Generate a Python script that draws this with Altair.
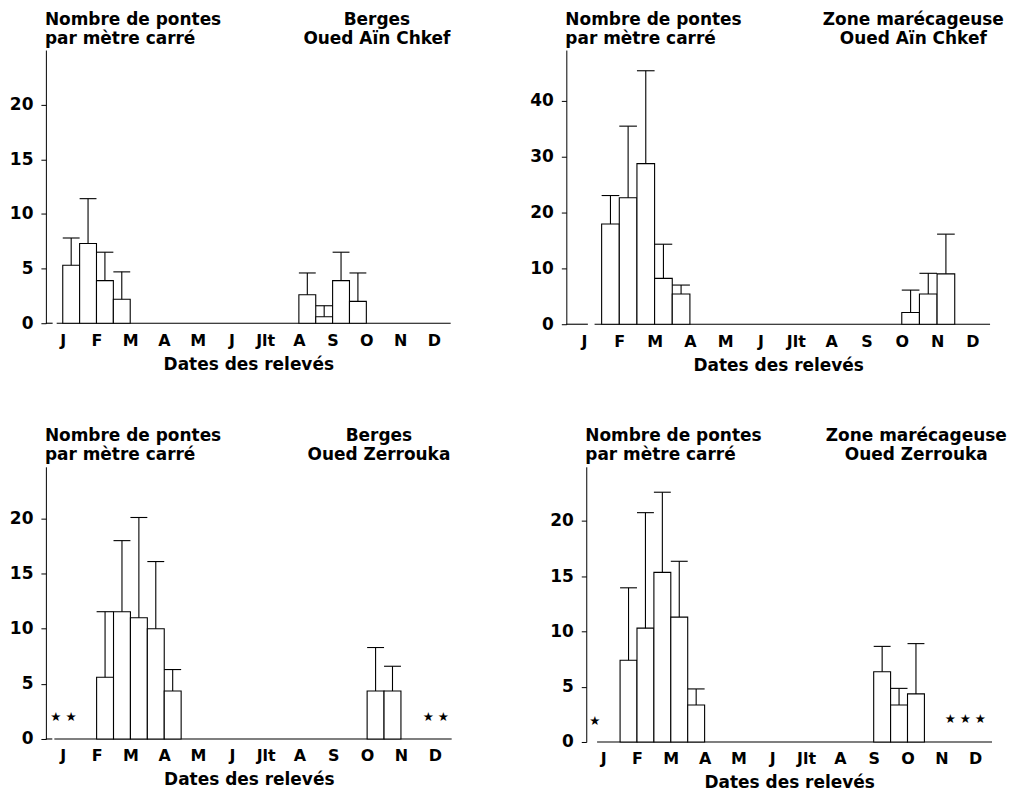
import json
import altair as alt
import pandas as pd

# ---------------- data ----------------
MONTHS = ["J", "F", "M", "A", "M", "J", "Jlt", "A", "S", "O", "N", "D"]
Y_TITLE = ["Nombre de pontes", "par mètre carré"]
X_TITLE = "Dates des relevés"
HALF = 0.5  # each bar covers half a month

# Panel 1 : Berges, Oued Aïn Chkef
p1_site = ["Berges", "Oued Aïn Chkef"]
p1_start = [0.0, 0.5, 1.0, 1.5, 7.0, 7.5, 8.0, 8.5]
p1_mean = [5.3, 7.3, 3.9, 2.2, 2.6, 0.6, 3.9, 2.0]
p1_upper = [7.8, 11.4, 6.5, 4.7, 4.6, 1.6, 6.5, 4.6]
p1_ymax = 25
p1_ticks = [0, 5, 10, 15, 20]
p1_base_from = [-0.5, -0.18]
p1_base_to = [-0.3, 11.5]
p1_star_x, p1_star_y, p1_star_t = [], [], []

# Panel 2 : Zone marécageuse, Oued Aïn Chkef
p2_site = ["Zone marécageuse", "Oued Aïn Chkef"]
p2_start = [0.5, 1.0, 1.5, 2.0, 2.5, 9.0, 9.5, 10.0]
p2_mean = [17.9, 22.6, 28.7, 8.2, 5.4, 2.1, 5.4, 9.0]
p2_upper = [23.0, 35.4, 45.3, 14.3, 7.0, 6.1, 9.1, 16.1]
p2_ymax = 49
p2_ticks = [0, 10, 20, 30, 40]
p2_base_from = [-0.5, 0.3]
p2_base_to = [0.11, 11.5]
p2_star_x, p2_star_y, p2_star_t = [], [], []

# Panel 3 : Berges, Oued Zerrouka
p3_site = ["Berges", "Oued Zerrouka"]
p3_start = [1.0, 1.5, 2.0, 2.5, 3.0, 9.0, 9.5]
p3_mean = [5.6, 11.55, 11.0, 10.0, 4.35, 4.35, 4.35]
p3_upper = [11.55, 18.0, 20.1, 16.1, 6.3, 8.3, 6.6]
p3_ymax = 24.7
p3_ticks = [0, 5, 10, 15, 20]
p3_base_from = [-0.5, -0.25]
p3_base_to = [-0.31, 11.5]
p3_star_x = [0.02, 11.03]
p3_star_y = [1.95, 1.95]
p3_star_t = ["★ ★", "★ ★"]

# Panel 4 : Zone marécageuse, Oued Zerrouka
p4_site = ["Zone marécageuse", "Oued Zerrouka"]
p4_start = [0.5, 1.0, 1.5, 2.0, 2.5, 8.0, 8.5, 9.0]
p4_mean = [7.4, 10.3, 15.35, 11.3, 3.35, 6.35, 3.35, 4.35]
p4_upper = [13.95, 20.75, 22.6, 16.35, 4.8, 8.65, 4.85, 8.9]
p4_ymax = 24.9
p4_ticks = [0, 5, 10, 15, 20]
p4_base_from = [-0.5, -0.18]
p4_base_to = [-0.5, 11.5]
p4_star_x = [-0.25, 10.71]
p4_star_y = [1.9, 2.1]
p4_star_t = ["★", "★ ★ ★"]

FONT = "DejaVu Sans"
LABEL_EXPR = json.dumps(MONTHS) + "[datum.value]"


def panel(site, start, mean, upper, ymax, ticks, bfrom, bto,
          sx, sy, st, width, height, right_off):
    df = pd.DataFrame({
        "start": start,
        "end": [s + HALF for s in start],
        "mid": [s + HALF / 2 for s in start],
        "mean": mean,
        "upper": upper,
    })
    xs = alt.Scale(domain=[-0.5, 11.5], nice=False, zero=False)
    ys = alt.Scale(domain=[0, ymax], nice=False, zero=True)
    xaxis = alt.Axis(values=list(range(12)), labelExpr=LABEL_EXPR,
                     domain=False, ticks=False, tickSize=0, grid=False,
                     labelFont=FONT, labelFontWeight="bold", labelFontSize=16,
                     labelColor="black", labelPadding=9, labelFlush=False,
                     labelOverlap=False, title=X_TITLE, titleFont=FONT,
                     titleFontWeight="bold", titleFontSize=17,
                     titleColor="black", titlePadding=8)
    yaxis = alt.Axis(values=ticks, domain=True, domainColor="black",
                     ticks=True, tickColor="black", tickSize=5, grid=False,
                     labelFont=FONT, labelFontWeight="bold", labelFontSize=17,
                     labelColor="black", labelPadding=8, title=None)

    base = alt.Chart(df)
    bars = base.mark_rect(fill="white", stroke="black", strokeWidth=1.1).encode(
        x=alt.X("start:Q", scale=xs, axis=xaxis),
        x2="end:Q",
        y=alt.Y("mean:Q", scale=ys, axis=yaxis),
        y2=alt.datum(0),
    )
    err = base.mark_rule(color="black", strokeWidth=1.1).encode(
        x=alt.X("mid:Q", scale=xs, axis=xaxis),
        y=alt.Y("mean:Q", scale=ys, axis=yaxis),
        y2="upper:Q",
    )
    cap = base.mark_rule(color="black", strokeWidth=1.1).encode(
        x=alt.X("start:Q", scale=xs, axis=xaxis),
        x2="end:Q",
        y=alt.Y("upper:Q", scale=ys, axis=yaxis),
    )
    bdf = pd.DataFrame({"x0": bfrom, "x1": bto})
    baseline = alt.Chart(bdf).mark_rule(color="black", strokeWidth=1.1).encode(
        x=alt.X("x0:Q", scale=xs, axis=xaxis),
        x2="x1:Q",
        y=alt.datum(0),
    )
    layers = [baseline, bars, err, cap]
    if sx:
        sdf = pd.DataFrame({"x": sx, "y": sy, "t": st})
        stars = alt.Chart(sdf).mark_text(font=FONT, fontSize=12.5,
                                         color="black").encode(
            x=alt.X("x:Q", scale=xs, axis=xaxis),
            y=alt.Y("y:Q", scale=ys, axis=yaxis),
            text="t:N",
        )
        layers.append(stars)
    one = alt.Data(values=[{"k": 0}])
    left_title = alt.Chart(one).mark_text(
        align="left", baseline="alphabetic", font=FONT, fontWeight="bold",
        fontSize=17, lineHeight=19, color="black").encode(
        x=alt.value(-1), y=alt.value(-25.5), text=alt.value(Y_TITLE))
    right_title = alt.Chart(one).mark_text(
        align="center", baseline="alphabetic", font=FONT, fontWeight="bold",
        fontSize=17, lineHeight=19, color="black").encode(
        x=alt.value(width - right_off), y=alt.value(-25.5),
        text=alt.value(site))
    layers += [left_title, right_title]
    return alt.layer(*layers).properties(width=width, height=height)


c1 = panel(p1_site, p1_start, p1_mean, p1_upper, p1_ymax, p1_ticks,
           p1_base_from, p1_base_to, p1_star_x, p1_star_y, p1_star_t,
           406, 274, 74)
c2 = panel(p2_site, p2_start, p2_mean, p2_upper, p2_ymax, p2_ticks,
           p2_base_from, p2_base_to, p2_star_x, p2_star_y, p2_star_t,
           425, 275, 77)
c3 = panel(p3_site, p3_start, p3_mean, p3_upper, p3_ymax, p3_ticks,
           p3_base_from, p3_base_to, p3_star_x, p3_star_y, p3_star_t,
           407, 273, 73)
c4 = panel(p4_site, p4_start, p4_mean, p4_upper, p4_ymax, p4_ticks,
           p4_base_from, p4_base_to, p4_star_x, p4_star_y, p4_star_t,
           407, 276, 76)

row1 = alt.hconcat(c1, c2, spacing=116, bounds="flush")
row2 = alt.hconcat(c3, c4, spacing=135, bounds="flush")
chart = alt.vconcat(row1, row2, spacing=54).properties(
    padding={"left": 1, "top": 1, "right": 0, "bottom": 0},
    background="white",
).configure_view(stroke=None)

chart.save("out.html", embed_options={"renderer": "svg", "actions": False})
